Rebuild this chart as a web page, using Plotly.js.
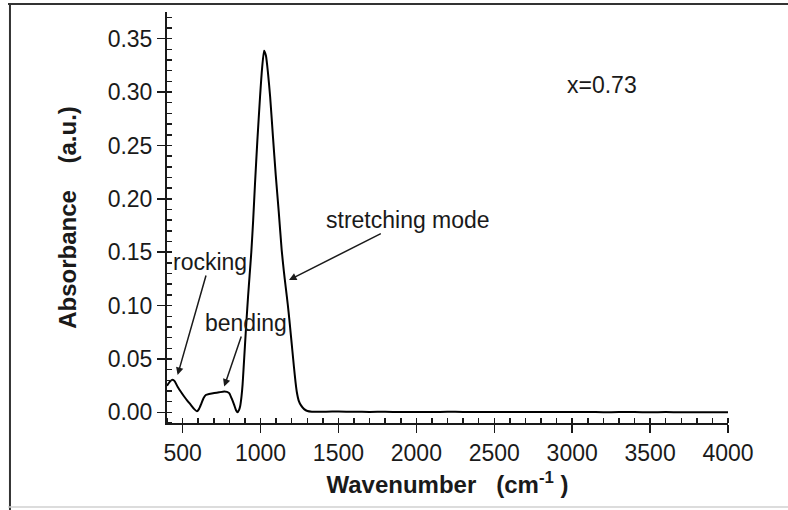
<!DOCTYPE html>
<html>
<head>
<meta charset="utf-8">
<script src="https://cdn.plot.ly/plotly-3.0.1.min.js"></script>
<style>
  html, body { margin: 0; padding: 0; background: #ffffff; }
  #chart { width: 788px; height: 510px; }
</style>
</head>
<body>
<div id="chart"></div>
<script>
// Wavenumber (cm^-1)
const wavenumber = [
  400, 420, 436, 450, 468, 490, 510, 530, 553, 575, 592, 605, 620, 635, 649, 670,
  703, 735, 767, 785, 799, 815, 831, 843, 853, 862, 869, 878, 885, 891, 900, 910,
  920, 930, 941, 953, 965, 980, 997, 1010, 1023, 1035, 1048, 1062, 1080, 1098, 1117,
  1136, 1150, 1162, 1175, 1185, 1195, 1205, 1215, 1225, 1233, 1245, 1260, 1280, 1301,
  1330, 1370, 1420, 1500, 1600, 1700, 1800, 1900, 2000, 2100, 2200, 2300, 2400, 2500,
  2600, 2700, 2800, 2900, 3000, 3100, 3200, 3300, 3400, 3500, 3600, 3700, 3800, 3900, 4000
];
// Absorbance (a.u.)
const absorbance = [
  0.025, 0.029, 0.0305, 0.029, 0.024, 0.019, 0.0148, 0.011, 0.007, 0.003, 0.001, 0.003, 0.008, 0.0135, 0.0162, 0.0172,
  0.018, 0.0188, 0.0195, 0.0192, 0.018, 0.013, 0.007, 0.002, 0.0, 0.002, 0.0054, 0.0148, 0.026, 0.040, 0.062, 0.086,
  0.108, 0.128, 0.150, 0.180, 0.215, 0.255, 0.2954, 0.322, 0.3388, 0.334, 0.318, 0.2954, 0.258, 0.222, 0.188,
  0.152, 0.132, 0.117, 0.101, 0.087, 0.072, 0.057, 0.042, 0.028, 0.019, 0.011, 0.0065, 0.003, 0.0012,
  0.0006, 0.0005, 0.0006, 0.0007, 0.0005, 0.0004, 0.0005, 0.0003, 0.0004, 0.0003, 0.0005, 0.0004, 0.0002, 0.0003,
  0.0003, 0.0002, 0.0003, 0.0002, 0.0002, 0.0003, 0.0001, 0.0002, 0.0002, 0.0001, 0.0002, 0.0001, 0.0001, 0.0001, 0.0001
];
const yTickVals = [0, 0.05, 0.10, 0.15, 0.20, 0.25, 0.30, 0.35];
const yTickText = ["0.00", "0.05", "0.10", "0.15", "0.20", "0.25", "0.30", "0.35"];
const xTickVals = [500, 1000, 1500, 2000, 2500, 3000, 3500, 4000];
const xTickText = ["500", "1000", "1500", "2000", "2500", "3000", "3500", "4000"];

const FONT = "Liberation Sans, Arial, Helvetica, sans-serif";
const INK = "#1a1a1a";

const trace = {
  x: wavenumber,
  y: absorbance,
  type: "scatter",
  mode: "lines",
  line: { color: "#000000", width: 2, shape: "spline", smoothing: 0.5 },
  hoverinfo: "skip"
};

const NB = "\u00A0";

const layout = {
  width: 788,
  height: 510,
  margin: { l: 167, r: 60, t: 12, b: 87 },
  paper_bgcolor: "#ffffff",
  plot_bgcolor: "#ffffff",
  showlegend: false,
  font: { family: FONT, color: INK, size: 23 },
  xaxis: {
    range: [400, 4000],
    showgrid: false,
    zeroline: false,
    showline: true,
    linecolor: INK,
    linewidth: 2,
    mirror: false,
    ticks: "outside",
    ticklen: 8,
    tickwidth: 1.5,
    tickcolor: INK,
    tickvals: xTickVals,
    ticktext: xTickText,
    tickfont: { family: FONT, size: 23, color: INK },
    minor: { dtick: 100, tick0: 0, ticks: "inside", ticklen: 5, tickwidth: 1.5, tickcolor: INK, showgrid: false },
    title: {
      text: "Wavenumber" + NB + NB + NB + "(cm<sup>-1</sup>" + NB + ")",
      font: { family: FONT, size: 24, color: INK, weight: "bold" },
      standoff: 12
    }
  },
  yaxis: {
    range: [-0.01, 0.375],
    showgrid: false,
    zeroline: false,
    showline: true,
    linecolor: INK,
    linewidth: 2,
    mirror: false,
    ticks: "outside",
    ticklen: 8,
    tickwidth: 1.5,
    tickcolor: INK,
    tickvals: yTickVals,
    ticktext: yTickText,
    tickfont: { family: FONT, size: 23, color: INK },
    minor: { dtick: 0.01, tick0: 0, ticks: "inside", ticklen: 5, tickwidth: 1.5, tickcolor: INK, showgrid: false },
    title: {
      text: "Absorbance" + NB + NB + NB + NB + "(a.u.)",
      font: { family: FONT, size: 24, color: INK, weight: "bold" },
      standoff: 24
    }
  },
  annotations: [
    { x: 3189, y: 0.3064, xref: "x", yref: "y", text: "x=0.73", showarrow: false,
      font: { family: FONT, size: 23, color: INK } },
    { x: 1183, y: 0.124, ax: 1944, ay: 0.180, xref: "x", yref: "y", axref: "x", ayref: "y",
      text: "stretching mode", showarrow: true, arrowhead: 2, arrowsize: 1, arrowwidth: 1.5,
      arrowcolor: INK, borderpad: 0, font: { family: FONT, size: 23, color: INK } },
    { x: 468, y: 0.035, ax: 675, ay: 0.1408, xref: "x", yref: "y", axref: "x", ayref: "y",
      text: "rocking", showarrow: true, arrowhead: 2, arrowsize: 1, arrowwidth: 1.5,
      arrowcolor: INK, borderpad: 0, font: { family: FONT, size: 23, color: INK } },
    { x: 767, y: 0.0241, ax: 906, ay: 0.0837, xref: "x", yref: "y", axref: "x", ayref: "y",
      text: "bending", showarrow: true, arrowhead: 2, arrowsize: 1, arrowwidth: 1.5,
      arrowcolor: INK, borderpad: 0, font: { family: FONT, size: 23, color: INK } }
  ],
  shapes: [
    { type: "line", xref: "paper", yref: "paper", x0: -0.2834, x1: 1.107, y0: 1.0195, y1: 1.0195,
      line: { color: "#333333", width: 2 } },
    { type: "line", xref: "paper", yref: "paper", x0: -0.2799, x1: -0.2799, y0: 1.0195, y1: -0.2117,
      line: { color: "#333333", width: 2 } },
    { type: "line", xref: "paper", yref: "paper", x0: -0.2834, x1: 1.107, y0: -0.2044, y1: -0.2044,
      line: { color: "#d0d0d0", width: 1.5 } }
  ]
};

Plotly.newPlot("chart", [trace], layout, { staticPlot: true, displayModeBar: false });
</script>
</body>
</html>
